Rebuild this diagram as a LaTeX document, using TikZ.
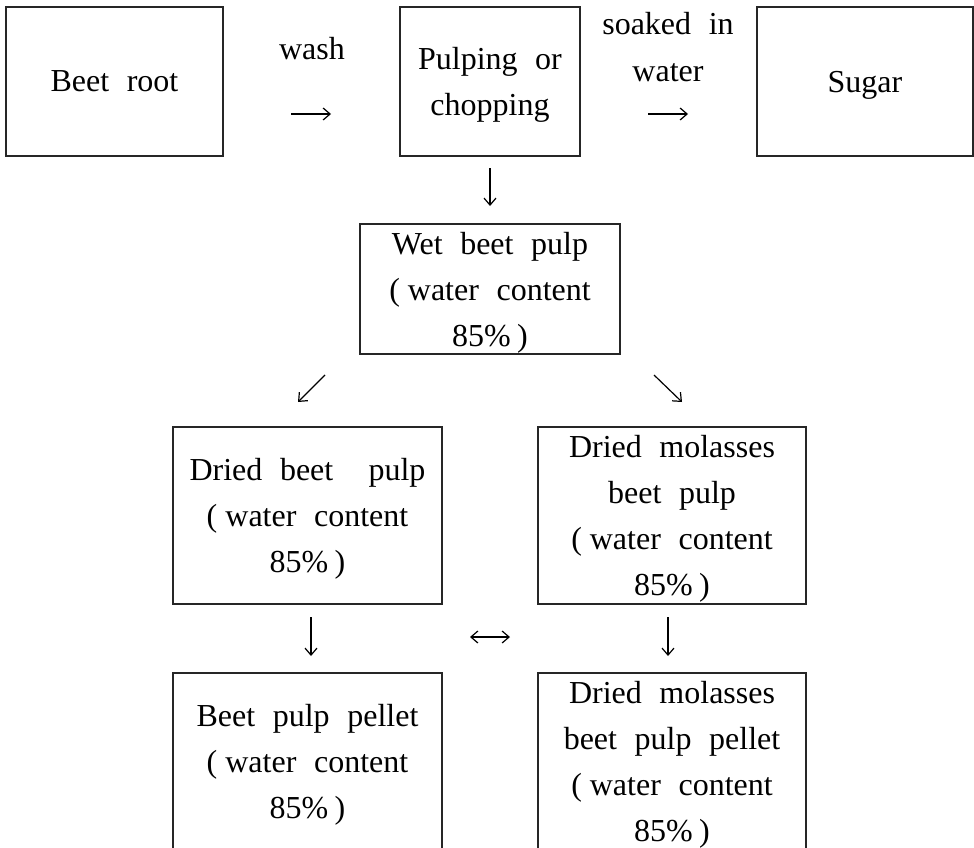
\documentclass[tikz,border=0pt]{standalone}
\usepackage{fontspec}
\setmainfont{Liberation Serif}[WordSpace=2.2]
\usetikzlibrary{arrows.meta}
\newcommand{\fwlp}{(\hspace{0.25em}}
\newcommand{\fwrp}{\hspace{0.2em})}
\tikzset{
  box/.style={draw=black!85, line width=1.3pt, inner sep=0pt, align=center,
    text depth=0pt, font=\fontsize{32}{46}\selectfont},
  lbl/.style={inner sep=0pt, anchor=base, font=\fontsize{32}{46}\selectfont},
  tip/.tip={Straight Barb[length=7pt,width=12pt]},
  arr/.style={line width=1.2pt, -tip},
  arrboth/.style={line width=1.2pt, tip-tip}
}
\begin{document}
\begin{tikzpicture}[x=1pt,y=-1pt]
\useasboundingbox (0,0) rectangle (974,848);
\clip (0,0) rectangle (974,848);

% top row
\node[box, minimum width=217, minimum height=149] (root) at (114.5,81.5) {Beet root};
\node[box, minimum width=180, minimum height=149] (pulp) at (490,81.5) {Pulping or\\chopping};
\node[box, minimum width=216, minimum height=149] (sugar) at (865,81.5) {Sugar};

\node[lbl] (wash) at (312,60) {wash};
\node[lbl] (soak1) at (668,35) {soaked in};
\node[lbl] (soak2) at (668,82) {water};

\coordinate (a1s) at (291,114); \coordinate (a1e) at (331,114);
\coordinate (a2s) at (648,114); \coordinate (a2e) at (688,114);
\draw[arr] (a1s) -- (a1e);
\draw[arr] (a2s) -- (a2e);

% down to wet pulp
\coordinate (a3s) at (490,168); \coordinate (a3e) at (490,206);
\draw[arr] (a3s) -- (a3e);

\node[box, minimum width=260, minimum height=130] (wet) at (490,289)
  {Wet beet pulp\\\fwlp water content\\85\%\fwrp};

\coordinate (a4s) at (325,375); \coordinate (a4e) at (298,402);
\coordinate (a5s) at (654,375); \coordinate (a5e) at (682,402);
\draw[arr] (a4s) -- (a4e);
\draw[arr] (a5s) -- (a5e);

% middle row
\node[box, minimum width=269, minimum height=177] (dried) at (307.5,515.5)
  {Dried beet~~pulp\\\fwlp water content\\85\%\fwrp};
\node[box, minimum width=268, minimum height=177] (mol) at (672,515.5)
  {Dried molasses\\beet pulp\\\fwlp water content\\85\%\fwrp};

\coordinate (a6s) at (311,617); \coordinate (a6e) at (311,656);
\coordinate (a7s) at (668,617); \coordinate (a7e) at (668,656);
\coordinate (a8s) at (470,637); \coordinate (a8e) at (510,637);
\draw[arr] (a6s) -- (a6e);
\draw[arr] (a7s) -- (a7e);
\draw[arrboth] (a8s) -- (a8e);

% bottom row (runs past the lower edge)
\node[box, minimum width=269, minimum height=177] (pellet) at (307.5,761.5)
  {Beet pulp pellet\\\fwlp water content\\85\%\fwrp};
\node[box, minimum width=268, minimum height=177] (molpellet) at (672,761.5)
  {Dried molasses\\beet pulp pellet\\\fwlp water content\\85\%\fwrp};
\end{tikzpicture}
\end{document}
